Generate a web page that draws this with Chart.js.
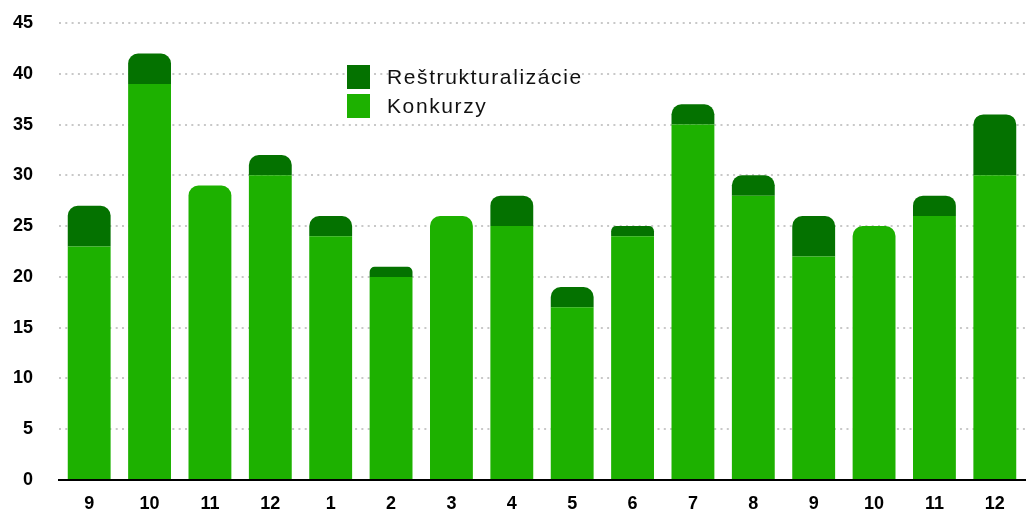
<!DOCTYPE html>
<html>
<head>
<meta charset="utf-8">
<script src="https://cdn.jsdelivr.net/npm/chart.js@4/dist/chart.umd.min.js"></script>
<style>
    html, body { margin: 0; padding: 0; background: #fff; }
    #wrap { position: relative; width: 1034px; height: 526px; }
    #legend {
        position: absolute; left: 347px; top: 62px;
        font-family: Helvetica, Arial, "Liberation Sans", sans-serif;
        font-size: 21px; letter-spacing: 1.6px; color: #111;
    }
    #legend .item { display: flex; align-items: center; height: 29px; }
    #legend .box { width: 23px; height: 24px; margin-right: 17px; }
</style>
</head>
<body>
<div id="wrap">
    <canvas id="chart" width="1034" height="526"></canvas>
    <div id="legend"></div>
</div>
<script>
// Months (Sept of one year to Dec of the next)
const months = ['9', '10', '11', '12', '1', '2', '3', '4', '5', '6', '7', '8', '9', '10', '11', '12'];
const konkurzy = [23, 39, 29, 30, 24, 20, 26, 25, 17, 24, 35, 28, 22, 25, 26, 30];
const restrukturalizacie = [4, 3, 0, 2, 2, 1, 0, 3, 2, 1, 2, 2, 4, 0, 2, 6];
const yTicks = [0, 5, 10, 15, 20, 25, 30, 35, 40, 45];

const lightGreen = '#1db100';
const darkGreen = '#047200';
const fontFamily = 'Helvetica, Arial, "Liberation Sans", sans-serif';
const topRound = { topLeft: 10, topRight: 10, bottomLeft: 0, bottomRight: 0 };

const ctx = document.getElementById('chart');

const chart = new Chart(ctx, {
    type: 'bar',
    data: {
        labels: months,
        datasets: [
            {
                label: 'Konkurzy',
                data: konkurzy,
                backgroundColor: lightGreen,
                // only round the top when nothing is stacked on it
                borderRadius: c => restrukturalizacie[c.dataIndex] > 0 ? 0 : topRound,
                borderSkipped: false,
                categoryPercentage: 1,
                barPercentage: 0.71
            },
            {
                label: 'Reštrukturalizácie',
                data: restrukturalizacie,
                backgroundColor: darkGreen,
                borderRadius: topRound,
                borderSkipped: false,
                categoryPercentage: 1,
                barPercentage: 0.71
            }
        ]
    },
    options: {
        responsive: false,
        animation: false,
        layout: { padding: { top: 23, right: 9, left: 0, bottom: 0 } },
        plugins: {
            legend: { display: false },
            tooltip: { enabled: false }
        },
        scales: {
            x: {
                stacked: true,
                grid: { display: false },
                border: { display: true, color: '#000', width: 2 },
                ticks: {
                    color: '#000',
                    padding: 5,
                    font: { size: 18, weight: 'bold', family: fontFamily }
                },
                afterFit: s => { s.height = 46; }
            },
            y: {
                stacked: true,
                min: 0,
                max: 45,
                afterBuildTicks: s => { s.ticks = yTicks.map(v => ({ value: v })); },
                grid: {
                    color: '#c8c8c8',
                    lineWidth: 2,
                    drawTicks: false
                },
                border: { display: false, dash: [2, 4.3] },
                ticks: {
                    color: '#000',
                    padding: 26,
                    font: { size: 18, weight: 'bold', family: fontFamily }
                },
                // tick padding also pushes the top down; keep only the layout padding
                afterFit: s => { s.width = 59; s.paddingTop = 0; s.paddingBottom = 0; }
            }
        }
    }
});

// legend in the same order as the reference (top series first)
const legendEl = document.getElementById('legend');
chart.data.datasets.slice().reverse().forEach(ds => {
    const item = document.createElement('div');
    item.className = 'item';
    const box = document.createElement('span');
    box.className = 'box';
    box.style.background = ds.backgroundColor;
    const txt = document.createElement('span');
    txt.textContent = ds.label;
    item.appendChild(box);
    item.appendChild(txt);
    legendEl.appendChild(item);
});
</script>
</body>
</html>
